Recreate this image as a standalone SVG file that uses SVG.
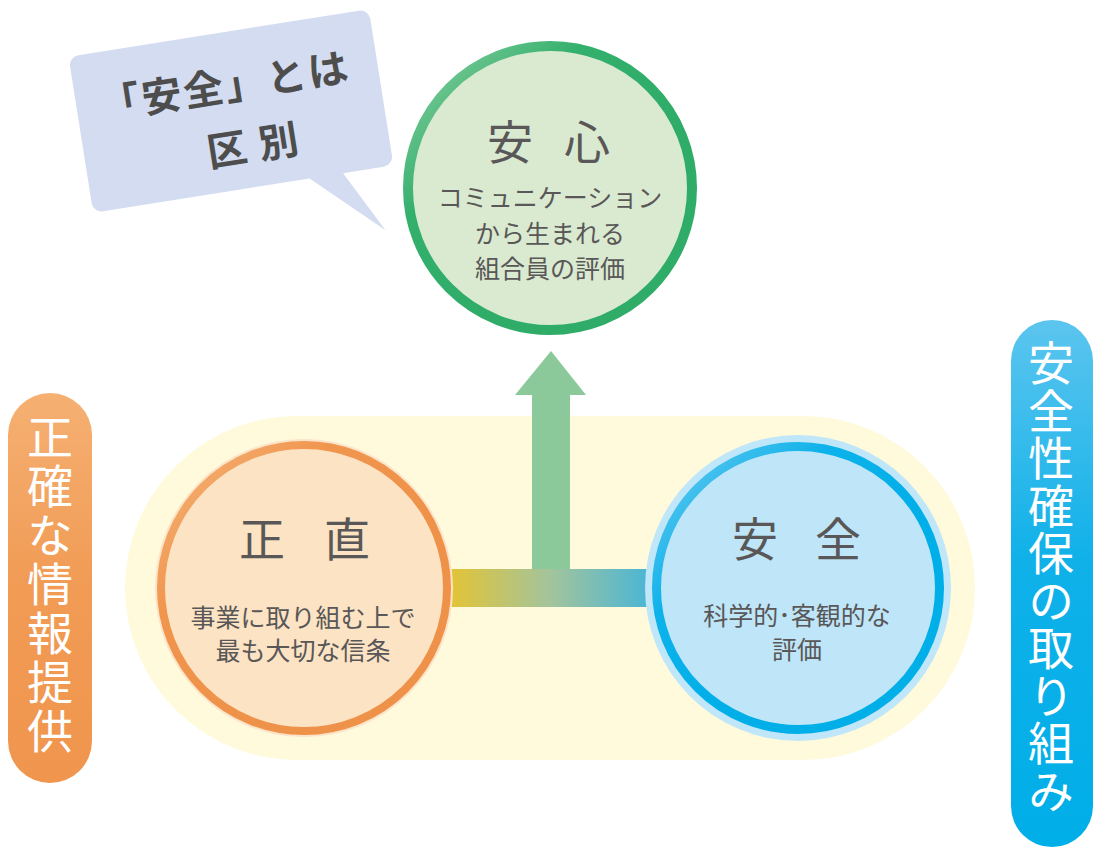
<svg xmlns="http://www.w3.org/2000/svg" width="1100" height="863" viewBox="0 0 1100 863">
<style>
.t{font-family:"Noto Sans CJK JP","Noto Sans",sans-serif;fill:#595757}
.title{font-size:46px}
.sub{font-size:25px;text-anchor:middle}
.vt{font-family:"Noto Sans CJK JP","Noto Sans",sans-serif;fill:#ffffff;font-size:46px;writing-mode:vertical-rl}
.bub{font-family:"Noto Sans CJK JP","Noto Sans",sans-serif;fill:#4d4d4d;font-size:40px;font-weight:700}
</style>
<defs>
<linearGradient id="gRing" x1="0" y1="0" x2="0.6" y2="0.6">
<stop offset="0" stop-color="#8fd1a3"/><stop offset="0.5" stop-color="#34b06d"/><stop offset="1" stop-color="#2eac68"/>
</linearGradient>
<linearGradient id="oRing" x1="0" y1="0" x2="0.6" y2="0.6">
<stop offset="0" stop-color="#f6b57a"/><stop offset="0.5" stop-color="#f0954e"/><stop offset="1" stop-color="#ef9249"/>
</linearGradient>
<linearGradient id="bRing" x1="0" y1="0" x2="0.6" y2="0.6">
<stop offset="0" stop-color="#6fcbf0"/><stop offset="0.5" stop-color="#0db2ea"/><stop offset="1" stop-color="#00aee8"/>
</linearGradient>
<linearGradient id="bar" x1="0" y1="0" x2="1" y2="0">
<stop offset="0" stop-color="#e9c42b"/><stop offset="0.5" stop-color="#a3c49c"/><stop offset="1" stop-color="#41b4dc"/>
</linearGradient>
<linearGradient id="oPill" x1="0" y1="0" x2="0" y2="1">
<stop offset="0" stop-color="#f5b072"/><stop offset="0.5" stop-color="#f19b55"/><stop offset="1" stop-color="#f0954d"/>
</linearGradient>
<linearGradient id="bPill" x1="0" y1="0" x2="0" y2="1">
<stop offset="0" stop-color="#5cc5ef"/><stop offset="0.45" stop-color="#10b1e9"/><stop offset="1" stop-color="#00aee8"/>
</linearGradient>
</defs>

<rect id="band" x="125" y="416" width="850" height="344" rx="172" fill="#fefadb"/>

<g id="connectors">
<rect x="440" y="569" width="220" height="38" fill="url(#bar)"/>
<polygon points="532,569 532,395 515,395 551,351 586,395 570,395 570,569" fill="#8bc99a"/>
</g>

<g id="bubble" transform="translate(231,111) rotate(-9)">
<path d="M-142,-79 H142 A10,10 0 0 1 152,-69 V69 A10,10 0 0 1 142,79 H101 L134,142 L67,79 H-142 A10,10 0 0 1 -152,69 V-69 A10,10 0 0 1 -142,-79 Z" fill="#d3dcf0"/>
<text class="bub" x="-2" y="-11" text-anchor="middle" letter-spacing="2">「安全」とは</text>
<text class="bub" x="22" y="52" text-anchor="middle" letter-spacing="12">区別</text>
</g>

<g id="anshin">
<circle cx="550" cy="188" r="142" fill="#d9ead0" stroke="url(#gRing)" stroke-width="10"/>
<text class="t title" x="487 530 564" y="159">安 心</text>
<text class="t sub" x="550" y="207">コミュニケーション</text>
<text class="t sub" x="550" y="243">から生まれる</text>
<text class="t sub" x="550" y="278">組合員の評価</text>
</g>

<g id="shoujiki">
<circle cx="304" cy="588" r="149" fill="#fde3c8"/>
<circle cx="304" cy="588" r="143" fill="#fce3c4" stroke="url(#oRing)" stroke-width="8"/>
<text class="t title" x="239 282 324" y="556">正 直</text>
<text class="t sub" x="303" y="627">事業に取り組む上で</text>
<text class="t sub" x="303" y="660">最も大切な信条</text>
</g>

<g id="anzen">
<circle cx="798" cy="588" r="153" fill="#bfe6f9"/>
<circle cx="798" cy="588" r="141.5" fill="#bee5f8" stroke="url(#bRing)" stroke-width="9"/>
<text class="t title" x="732 775 815" y="556">安 全</text>
<text class="t sub" x="797" y="625">科学的･客観的な</text>
<text class="t sub" x="797" y="659">評価</text>
</g>

<g id="leftPill">
<rect x="8" y="393" width="84" height="390" rx="42" fill="url(#oPill)"/>
<text class="vt" x="50" y="414" letter-spacing="3">正確な情報提供</text>
</g>

<g id="rightPill">
<rect x="1011" y="320" width="82" height="527" rx="41" fill="url(#bPill)"/>
<text class="vt" x="1051" y="340" letter-spacing="1.5">安全性確保の取り組み</text>
</g>
</svg>
